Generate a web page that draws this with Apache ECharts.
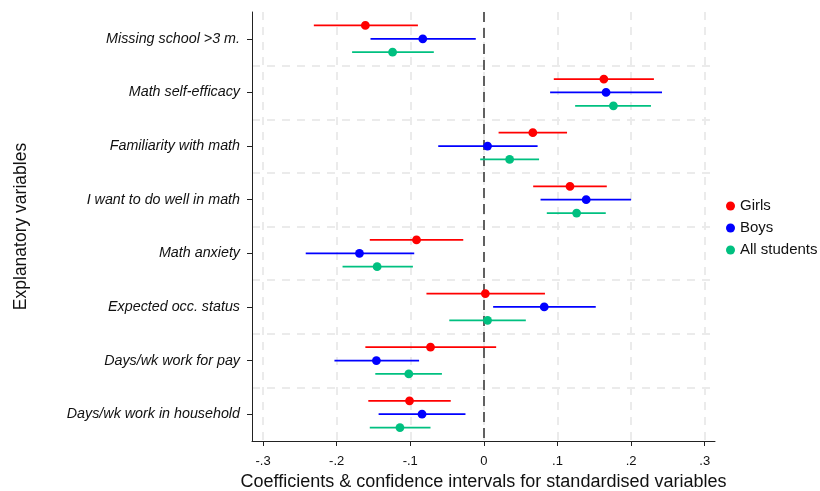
<!DOCTYPE html>
<html><head><meta charset="utf-8">
<script src="https://cdn.jsdelivr.net/npm/echarts@6/dist/echarts.min.js"></script>
<style>html,body{margin:0;padding:0;background:#fff}#c{width:820px;height:491px}</style>
</head><body><div id="c"></div>
<script>
const categories = ["Missing school >3 m.","Math self-efficacy","Familiarity with math","I want to do well in math","Math anxiety","Expected occ. status","Days/wk work for pay","Days/wk work in household"];
const seriesNames = ["Girls","Boys","All students"];
// point estimates
const girlsPt = [-0.161,0.163,0.0665,0.117,-0.0915,0.002,-0.0725,-0.101];
const boysPt  = [-0.083,0.166,0.005,0.139,-0.169,0.082,-0.146,-0.084];
const allPt   = [-0.124,0.176,0.035,0.126,-0.145,0.005,-0.102,-0.114];
// lower CI
const girlsLo = [-0.231,0.095,0.020,0.067,-0.155,-0.078,-0.161,-0.157];
const boysLo  = [-0.154,0.090,-0.062,0.077,-0.242,0.0126,-0.203,-0.143];
const allLo   = [-0.179,0.124,-0.005,0.0855,-0.192,-0.047,-0.1475,-0.155];
// upper CI
const girlsHi = [-0.0896,0.231,0.113,0.167,-0.028,0.083,0.0167,-0.045];
const boysHi  = [-0.011,0.242,0.073,0.200,-0.0946,0.152,-0.088,-0.025];
const allHi   = [-0.068,0.227,0.075,0.1656,-0.0964,0.057,-0.057,-0.0725];
const xTicks = [-0.3,-0.2,-0.1,0,0.1,0.2,0.3];

const colors = ["#ff0000","#0000ff","#00c080"];
const offsets = [-0.25,0,0.25];
const pts=[girlsPt,boysPt,allPt], los=[girlsLo,boysLo,allLo], his=[girlsHi,boysHi,allHi];
const FONT = 'Liberation Sans, Arial, sans-serif';

function fmt(v){ if (Math.abs(v)<1e-9) return '0'; return (v<0?'-':'')+'.'+Math.round(Math.abs(v)*10); }

const series = seriesNames.map((name,si)=>({
  name, type:'custom', z:5,
  itemStyle:{color:colors[si]},
  encode:{x:[1,2,3], y:0},
  data: categories.map((c,i)=>[i, los[si][i], his[si][i], pts[si][i]]),
  renderItem:function(params, api){
    const cat=api.value(0);
    const band=api.size([0,1])[1];
    const off=band*offsets[si];
    const a=api.coord([api.value(1),cat]);
    const b=api.coord([api.value(2),cat]);
    const p=api.coord([api.value(3),cat]);
    const y=a[1]+off;
    return {type:'group', children:[
      {type:'line', shape:{x1:a[0],y1:y,x2:b[0],y2:y}, style:{stroke:colors[si], lineWidth:1.8}},
      {type:'circle', shape:{cx:p[0],cy:y,r:4.4}, style:{fill:colors[si]}}
    ]};
  }
}));

series.push({
  type:'line', data:[], silent:true, z:1,
  markLine:{silent:true, symbol:'none', label:{show:false},
    lineStyle:{color:'#ebebeb', type:[8,7], width:2},
    data: xTicks.map(v=>({xAxis:v}))}
});
series.push({
  type:'line', data:[], silent:true, z:2,
  markLine:{silent:true, symbol:'none', label:{show:false},
    lineStyle:{color:'#606060', type:[10,6], width:2},
    data:[{xAxis:0}]}
});

const chart = echarts.init(document.getElementById('c'));
chart.setOption({
  animation:false,
  backgroundColor:'#fff',
  grid:{left:252, right:105, top:12, bottom:50, outerBoundsMode:'none', containLabel:false},
  legend:{
    data:seriesNames, orient:'vertical', left:726, top:198, padding:0,
    icon:'circle', itemWidth:9, itemHeight:9, itemGap:6,
    textStyle:{fontFamily:FONT, fontSize:15, lineHeight:16, color:'#111'}
  },
  xAxis:{
    type:'value', min:-0.315, max:0.314,
    name:'Coefficients & confidence intervals for standardised variables',
    nameLocation:'middle', nameGap:31,
    nameTextStyle:{fontFamily:FONT, fontSize:18, color:'#111'},
    axisLine:{show:true, onZero:false, lineStyle:{color:'#222', width:1}},
    axisTick:{show:true, customValues:xTicks, length:5, lineStyle:{color:'#222'}},
    axisLabel:{customValues:xTicks, formatter:fmt, margin:14,
      fontFamily:FONT, fontSize:13, color:'#111'},
    splitLine:{show:false}
  },
  yAxis:{
    type:'category', data:categories, inverse:true,
    name:'Explanatory variables', nameLocation:'middle', nameGap:222,
    nameTextStyle:{fontFamily:FONT, fontSize:17.5, color:'#111'},
    axisLine:{show:true, onZero:false, lineStyle:{color:'#222', width:1}},
    axisTick:{show:true, alignWithLabel:true, length:5, lineStyle:{color:'#222'}},
    axisLabel:{fontFamily:FONT, fontSize:14.3, fontStyle:'italic', color:'#111', margin:12},
    splitLine:{show:true, showMinLine:false, showMaxLine:false,
      lineStyle:{color:'#ebebeb', type:[8,7], width:2}}
  },
  series
});
</script></body></html>
